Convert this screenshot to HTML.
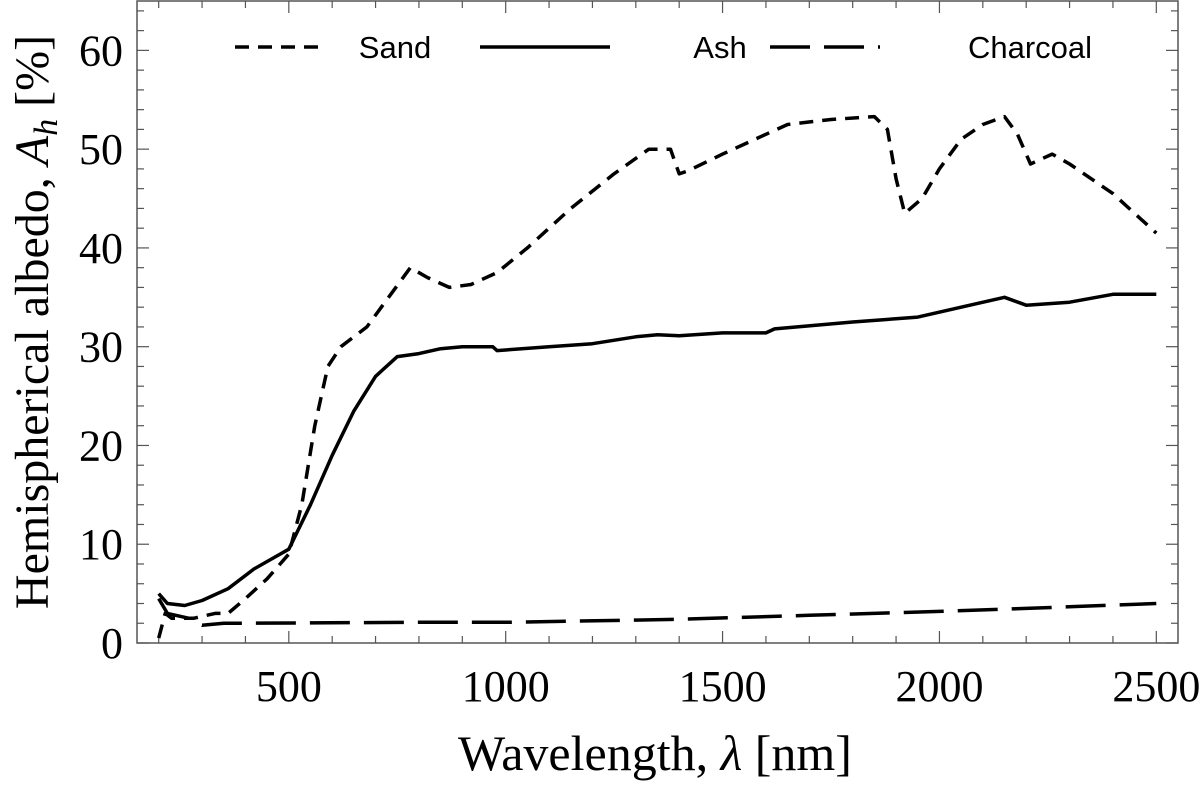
<!DOCTYPE html>
<html><head><meta charset="utf-8"><style>
body{margin:0;background:#fff}svg{display:block}
</style></head><body>
<svg id="c" width="1200" height="786" xmlns="http://www.w3.org/2000/svg"></svg>
<script>
const sandX=[200,215,230,280,330,360,400,450,500,530,560,590,620,680,730,780,820,870,920,980,1050,1150,1250,1330,1380,1400,1420,1500,1600,1650,1750,1850,1880,1900,1920,1960,2000,2050,2100,2150,2180,2210,2260,2300,2350,2400,2450,2500];
const sandY=[0.5,3,2.5,2.5,3,3,4.5,6.5,9,14,22,28,30,32,35,38,37,36,36.3,37.5,40,44,47.5,50,50,47.5,47.8,49.5,51.5,52.5,53,53.3,52,47,43.5,45,48,51,52.5,53.3,51.5,48.5,49.5,48.5,47,45.5,43.5,41.5];
const ashX=[200,220,260,300,360,420,480,500,550,600,650,700,750,800,850,900,970,980,1100,1200,1300,1350,1400,1500,1600,1620,1800,1950,2050,2150,2200,2300,2400,2500];
const ashY=[5,4,3.8,4.3,5.5,7.5,9,9.5,14,19,23.5,27,29,29.3,29.8,30,30,29.6,30,30.3,31,31.2,31.1,31.4,31.4,31.8,32.5,33,34,35,34.2,34.5,35.3,35.3];
const charX=[200,220,270,300,350,400,800,1000,1400,1700,2000,2200,2500];
const charY=[4.5,3,2.5,1.8,2,2,2.1,2.1,2.4,2.8,3.2,3.5,4];
const xTicks=[500,1000,1500,2000,2500];
const yTicks=[0,10,20,30,40,50,60];
const L=137,R=1178,T=1,B=643,x0=150,x1=2550,y0=0,y1=65;
const sx=v=>L+(v-x0)/(x1-x0)*(R-L), sy=v=>B-(v-y0)/(y1-y0)*(B-T);
const svg=document.getElementById('c'),NS='http://www.w3.org/2000/svg';
function mk(t,a,p){const e=document.createElementNS(NS,t);for(const k in a)e.setAttribute(k,a[k]);(p||svg).appendChild(e);return e;}
let e=mk('rect',{x:L,y:T,width:R-L,height:B-T,fill:'none',stroke:'#555','stroke-width':1.5});

for(let v=200;v<=2500;v+=100){const big=v%500==0,l=big?12:7;
 mk('line',{x1:sx(v),x2:sx(v),y1:B,y2:B-l,stroke:'#555','stroke-width':1.2});
 mk('line',{x1:sx(v),x2:sx(v),y1:T,y2:T+l,stroke:'#555','stroke-width':1.2});}
for(let v=0;v<=65;v+=2){const big=v%10==0,l=big?12:7;
 mk('line',{x1:L,x2:L+l,y1:sy(v),y2:sy(v),stroke:'#555','stroke-width':1.2});
 mk('line',{x1:R,x2:R-l,y1:sy(v),y2:sy(v),stroke:'#555','stroke-width':1.2});}
xTicks.forEach(v=>{const t=mk('text',{x:sx(v),y:B+58,'text-anchor':'middle','font-family':'Liberation Serif,serif','font-size':44});t.textContent=v;
});
yTicks.forEach(v=>{const t=mk('text',{x:L-14,y:sy(v)+15,'text-anchor':'end','font-family':'Liberation Serif,serif','font-size':44});t.textContent=v;
});
function line(xs,ys,dash,name){const d=xs.map((x,i)=>(i?'L':'M')+sx(x).toFixed(1)+' '+sy(ys[i]).toFixed(1)).join(' ');
 const p=mk('path',{d,fill:'none',stroke:'#000','stroke-width':3.5,'stroke-dasharray':dash,'stroke-linejoin':'round'});
 }
line(sandX,sandY,'14 9','sand-series');
line(ashX,ashY,'none','ash-series');
line(charX,charY,'40 14','charcoal-series');
const leg=[[235,325,'14 9','Sand',395],[480,610,'none','Ash',720],[770,880,'40 14','Charcoal',1030]];
leg.forEach(g=>{const l=mk('line',{x1:g[0],x2:g[1],y1:47,y2:47,stroke:'#000','stroke-width':3.5,'stroke-dasharray':g[2]});

const t=mk('text',{x:g[4],y:58,'text-anchor':'middle','font-family':'Liberation Sans,sans-serif','font-size':31});t.textContent=g[3];
});
let t=mk('text',{x:655,y:770,'text-anchor':'middle','font-family':'Liberation Serif,serif','font-size':50});
t.innerHTML='Wavelength, <tspan font-style="italic">λ</tspan> [nm]';

t=mk('text',{x:0,y:0,'text-anchor':'middle','font-family':'Liberation Serif,serif','font-size':48,transform:'translate(48,322) rotate(-90)'});
t.innerHTML='Hemispherical albedo, <tspan font-style="italic">A</tspan><tspan font-style="italic" font-size="34" dy="9">h</tspan><tspan dy="-9"> [%]</tspan>';

</script>
</body></html>
